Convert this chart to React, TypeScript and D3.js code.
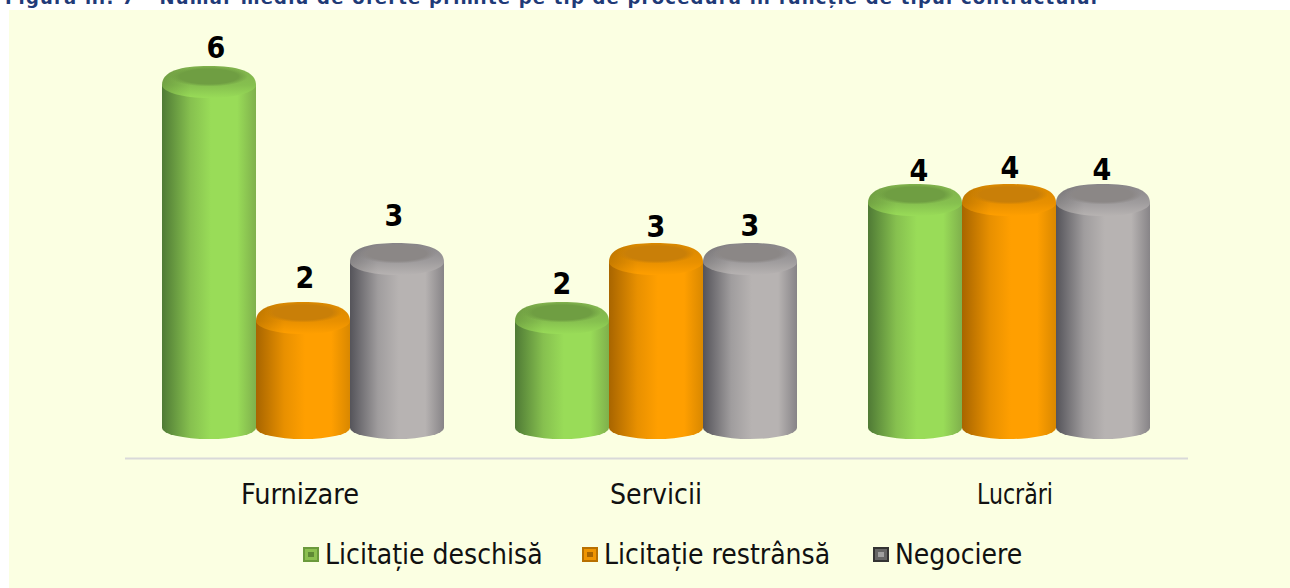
import React from 'react';
import * as d3 from 'd3';

const categories = ['Furnizare', 'Servicii', 'Lucrări'];
const seriesNames = ['Licitație deschisă', 'Licitație restrânsă', 'Negociere'];
const licitatieDeschisa = [6, 2, 4];
const licitatieRestransa = [2, 3, 4];
const negociere = [3, 3, 4];
const seriesValues = [licitatieDeschisa, licitatieRestransa, negociere];

const title = 'Figura nr. 7 - Număr mediu de oferte primite pe tip de procedură în funcție de tipul contractului';

const palette = [
  { dark: '#4f7a35', mid: '#86c04f', light: '#99dc58', cap: '#6f9e42', edge: '#7fb04c', boxOut: '#6b9a3c', box: '#8cc04f', boxIn: '#5f8a35' },
  { dark: '#a86500', mid: '#e89000', light: '#ff9f00', cap: '#c97f08', edge: '#d98800', boxOut: '#b87000', box: '#f09500', boxIn: '#a86500' },
  { dark: '#55545a', mid: '#a09d9e', light: '#b7b3b2', cap: '#8b8786', edge: '#878487', boxOut: '#333333', box: '#666666', boxIn: '#a0a0a0' },
];

// hand-placed data labels in the original, dx/dy from the bar centre and top
const labelDx = [[7, 2, -3], [0, 0, 0], [4, 1, -1]];
const labelDy = [[-8, -14, -17], [-8, -6, -7], [-3, -6, -4]];
const categoryDx = [-3, 0, 6];
const categoryWidth = [118, 92, 76];
const legendX = [303, 582, 873];

const FONT = '"DejaVu Sans", Verdana, sans-serif';
const width = 1290;
const height = 588;

const x0 = d3.scaleBand<string>().domain(categories).range([126.5, 1185.5]);
const x1 = d3.scaleBand<number>().domain([0, 1, 2]).range([-141, 141]);
const y = d3.scaleLinear().domain([0, 6]).range([420, 66]);

const BOTTOM_RY = 11;

const Bar = ({ cx, top, w, s }: { cx: number; top: number; w: number; s: number }) => {
  const rx = w / 2;
  const l = cx - rx;
  const r = cx + rx;
  const side = top + 19;
  const base = 428;
  const body = `M${l},${side} L${l},${base} A${rx},${BOTTOM_RY} 0 0 0 ${r},${base} L${r},${side} Z`;
  // squared-off rim: the top of these cylinders is bevelled, not a true ellipse
  const rim = `M${l},${side} C${l},${top + 5} ${cx - rx * 0.6},${top} ${cx},${top} C${cx + rx * 0.6},${top} ${r},${top + 5} ${r},${side} C${r},${top + 26} ${cx + rx * 0.55},${top + 32} ${cx},${top + 32} C${cx - rx * 0.55},${top + 32} ${l},${top + 26} ${l},${side} Z`;
  return (
    <g>
      <path d={body} fill={`url(#body${s})`} />
      <path d={rim} fill={`url(#rim${s})`} />
      <path d={rim} fill="url(#shade)" />
      <ellipse cx={cx} cy={top + 10.5} rx={rx - 8} ry={10} fill={`url(#cap${s})`} />
    </g>
  );
};

export default function App() {
  return (
    <svg
      width={width}
      height={height}
      style={{ position: 'absolute', left: 0, top: 0, display: 'block' }}
    >
      <defs>
        {palette.map((p, i) => (
          <React.Fragment key={i}>
            <linearGradient id={`body${i}`} x1="0" x2="1" y1="0" y2="0">
              <stop offset="0" stopColor={p.dark} />
              <stop offset="0.3" stopColor={p.mid} />
              <stop offset="0.52" stopColor={p.light} />
              <stop offset="0.8" stopColor={p.light} />
              <stop offset="1" stopColor={p.edge} />
            </linearGradient>
            <linearGradient id={`rim${i}`} x1="0" x2="0" y1="0" y2="1">
              <stop offset="0" stopColor={p.edge} />
              <stop offset="0.6" stopColor={p.mid} />
              <stop offset="1" stopColor={p.light} />
            </linearGradient>
            <radialGradient id={`cap${i}`}>
              <stop offset="0.75" stopColor={p.cap} />
              <stop offset="1" stopColor={p.cap} stopOpacity={0} />
            </radialGradient>
          </React.Fragment>
        ))}
        <linearGradient id="shade" x1="0" x2="1" y1="0" y2="0">
          <stop offset="0" stopColor="#000" stopOpacity={0.15} />
          <stop offset="0.3" stopColor="#000" stopOpacity={0} />
        </linearGradient>
      </defs>

      <rect x={9} y={10} width={width - 9} height={height - 10} fill="#fbffe2" />
      <text x={5} y={4} fontFamily={FONT} fontSize={18} fontWeight="bold" fill="#1f3a78" textLength={1092} lengthAdjust="spacing">
        {title}
      </text>

      {categories.map((c, ci) => (
        <g key={c}>
          {seriesValues.map((vals, s) => {
            const cx = x0(c)! + x0.bandwidth() / 2 + x1(s)! + x1.bandwidth() / 2;
            return (
              <g key={s}>
                <Bar cx={cx} top={y(vals[ci])} w={x1.bandwidth()} s={s} />
                <text
                  x={cx + labelDx[ci][s]}
                  y={y(vals[ci]) + labelDy[ci][s]}
                  textAnchor="middle"
                  fontFamily={FONT}
                  fontWeight="bold"
                  fontSize={30}
                  fill="#000"
                  style={{ fontStretch: 'condensed' }}
                >
                  {vals[ci]}
                </text>
              </g>
            );
          })}
          <text
            x={x0(c)! + x0.bandwidth() / 2 + categoryDx[ci]}
            y={504}
            textAnchor="middle"
            fontFamily={FONT}
            fontSize={28}
            fill="#111"
            textLength={categoryWidth[ci]}
            lengthAdjust="spacingAndGlyphs"
            style={{ fontStretch: 'condensed' }}
          >
            {c}
          </text>
        </g>
      ))}

      <line x1={125} x2={1188} y1={458.5} y2={458.5} stroke="#d9d9d9" strokeWidth={2} />

      {seriesNames.map((n, i) => (
        <g key={n}>
          <rect x={legendX[i]} y={547} width={16} height={15} fill={palette[i].boxOut} />
          <rect x={legendX[i] + 2} y={549} width={12} height={11} fill={palette[i].box} />
          <rect x={legendX[i] + 5} y={552} width={6} height={5} fill={palette[i].boxIn} />
          <text
            x={legendX[i] + 22}
            y={564}
            fontFamily={FONT}
            fontSize={28}
            fill="#111"
            style={{ fontStretch: 'condensed' }}
          >
            {n}
          </text>
        </g>
      ))}
    </svg>
  );
}
